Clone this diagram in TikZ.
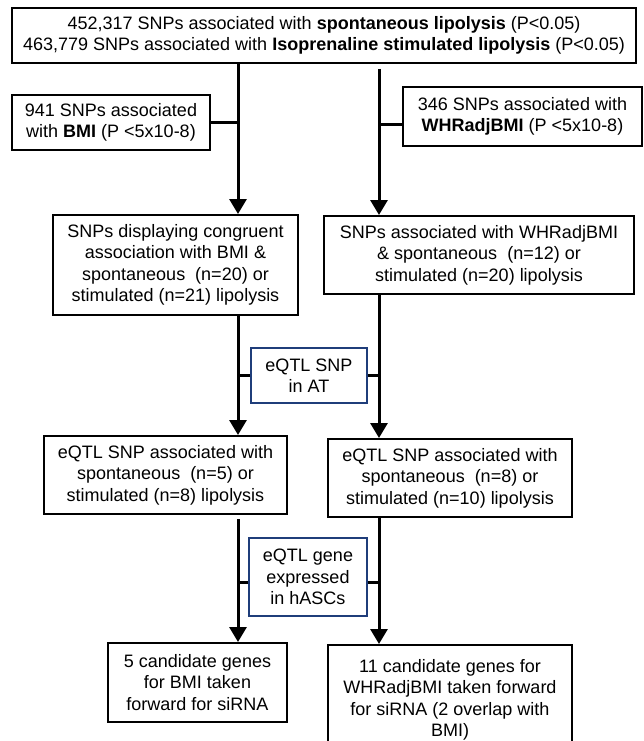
\documentclass[tikz,border=0pt]{standalone}
\usepackage{fontspec}
\setmainfont{Liberation Sans}
\usetikzlibrary{arrows.meta}
\definecolor{navyblue}{HTML}{1F3D7A}
\begin{document}
\begin{tikzpicture}[x=1pt,y=-1pt,
  bx/.style={draw=black, line width=2pt, align=center, inner sep=0pt,
    font=\fontsize{18}{21.5}\selectfont},
  bluebx/.style={bx, draw=navyblue, line width=1.8pt},
  conn/.style={line width=3pt},
  arr/.style={conn, -{Triangle[width=17pt,length=15pt]}}]
\useasboundingbox[fill=white] (0,0) rectangle (643,741);
\coordinate (L) at (238,0);
\coordinate (R) at (379,0);
\node[bx, minimum width=624, minimum height=55] (top) at (324,35.5)
  {452,317 SNPs associated with \textbf{spontaneous lipolysis} (P<0.05)\\
   463,779 SNPs associated with \textbf{Isoprenaline stimulated lipolysis} (P<0.05)};
\node[bx, minimum width=198, minimum height=55] (bmi) at (111,122.5)
  {941 SNPs associated\\with \textbf{BMI} (P <5x10-8)};
\node[bx, minimum width=239, minimum height=59] (whr) at (522.5,116.5)
  {346 SNPs associated with\\\textbf{WHRadjBMI} (P <5x10-8)};
\node[bx, minimum width=245, minimum height=100] (b2l) at (175.5,265)
  {SNPs displaying congruent\\association with BMI \&\\spontaneous\ \ (n=20) or\\stimulated (n=21) lipolysis};
\node[bx, minimum width=310, minimum height=78] (b2r) at (479,255)
  {SNPs associated with WHRadjBMI\\\& spontaneous\ \ (n=12) or\\stimulated (n=20) lipolysis};
\node[bluebx, minimum width=116, minimum height=55] (at) at (309,375.5)
  {eQTL SNP\\in AT};
\node[bx, minimum width=243, minimum height=78] (b3l) at (165.5,475)
  {eQTL SNP associated with\\spontaneous\ \ (n=5) or\\stimulated (n=8) lipolysis};
\node[bx, minimum width=244, minimum height=78] (b3r) at (450,478)
  {eQTL SNP associated with\\spontaneous\ \ (n=8) or\\stimulated (n=10) lipolysis};
\node[bluebx, minimum width=118, minimum height=78] (gene) at (308,577)
  {eQTL gene\\expressed\\in hASCs};
\node[bx, minimum width=179, minimum height=79] (b4l) at (197.5,682.5)
  {5 candidate genes\\for BMI taken\\forward for siRNA};
\node[bx, minimum width=244, minimum height=110] (b4r) at (450,700)
  {11 candidate genes for\\WHRadjBMI taken forward\\for siRNA (2 overlap with\\BMI)};
% connectors
\draw[arr] (top.south -| L) -- (b2l.north -| L);
\draw[arr] ([yshift=-5pt]top.south -| R) -- (b2r.north -| R);
\draw[conn] (bmi.east) -- (bmi.east -| L);
\coordinate (tw) at (379,125);
\draw[conn] (tw -| whr.west) -- (tw);
\draw[arr] (b2l.south -| L) -- (b3l.north -| L);
\draw[arr] (b2r.south -| R) -- (b3r.north -| R);
\draw[conn] (at.west) -- (at.west -| L);
\draw[conn] (at.east) -- (at.east -| R);
\draw[arr] ([yshift=-4pt]b3l.south -| L) -- (b4l.north -| L);
\draw[arr] (b3r.south -| R) -- (b4r.north -| R);
\coordinate (tg) at (0,582);
\draw[conn] (gene.west |- tg) -- (L |- tg);
\draw[conn] (gene.east |- tg) -- (R |- tg);
\end{tikzpicture}
\end{document}
